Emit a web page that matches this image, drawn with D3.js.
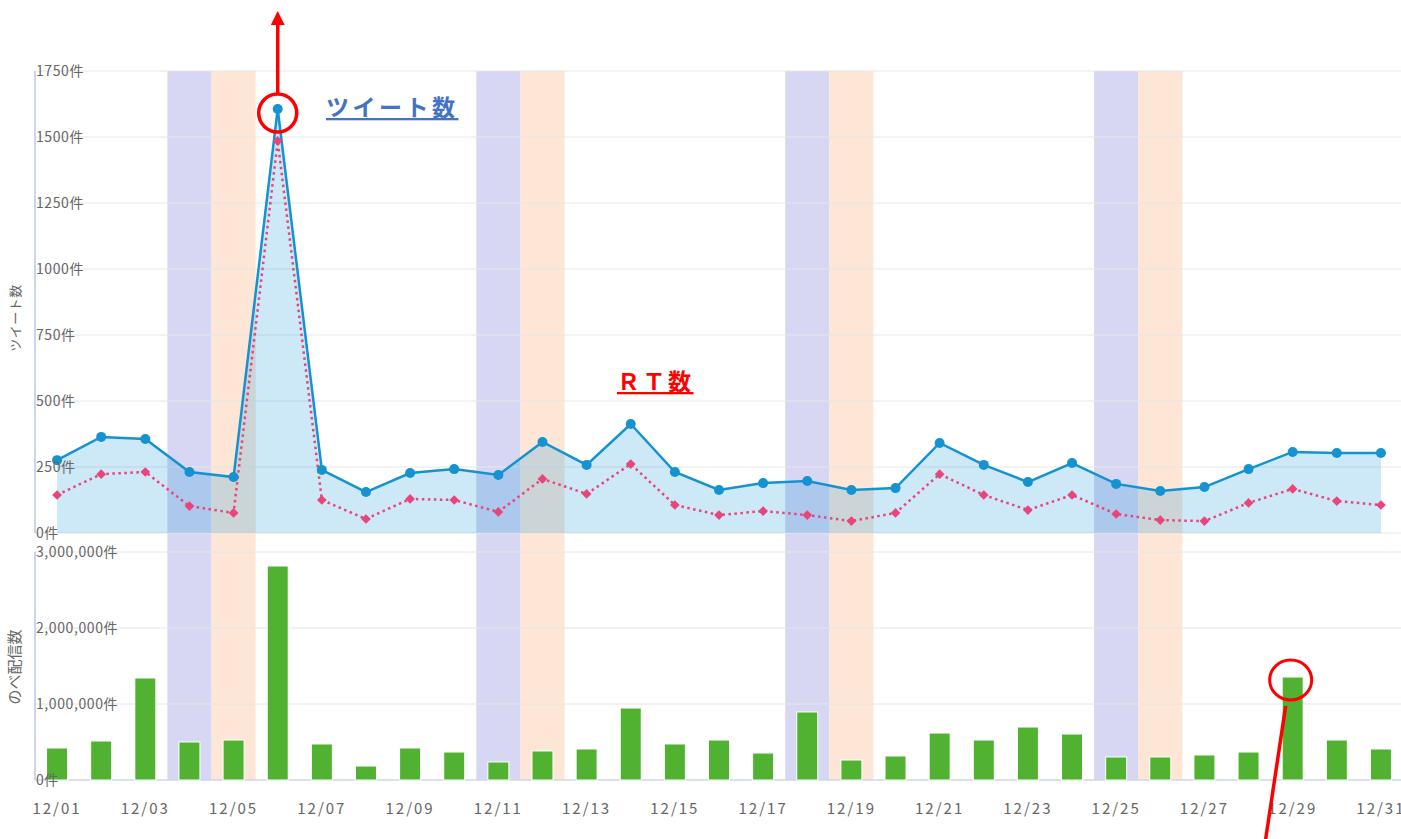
<!DOCTYPE html>
<html lang="ja">
  <head>
    <meta charset="utf-8">
    <title>ツイート数とのべ配信数</title>
    <script src="https://d3js.org/d3.v7.min.js"></script>
    <style>
      body { margin: 0; background: #fff; }
      text { font-family: "Noto Sans CJK JP", "Noto Sans", sans-serif; }
    </style>
  </head>
  <body>
    <script type="text/javascript">

      var w = 1401;
      var h = 839;

      var days = ["12/01","12/02","12/03","12/04","12/05","12/06","12/07","12/08","12/09","12/10",
                  "12/11","12/12","12/13","12/14","12/15","12/16","12/17","12/18","12/19","12/20",
                  "12/21","12/22","12/23","12/24","12/25","12/26","12/27","12/28","12/29","12/30","12/31"];
      var tweets = [276, 364, 356, 231, 212, 1606, 239, 155, 227, 242,
                    220, 345, 258, 413, 231, 163, 189, 197, 163, 170,
                    341, 258, 193, 265, 186, 159, 174, 242, 307, 303, 303];
      var retweets = [144, 223, 231, 102, 76, 1485, 125, 53, 129, 125,
                      80, 205, 148, 261, 106, 68, 83, 68, 45, 76,
                      223, 144, 87, 144, 72, 49, 45, 114, 167, 121, 106];
      var deliveries = [421000, 513000, 1342000, 500000, 526000, 2816000, 474000, 184000, 421000, 368000,
                        237000, 382000, 408000, 947000, 474000, 526000, 355000, 895000, 263000, 316000,
                        618000, 526000, 697000, 605000, 303000, 303000, 329000, 368000, 1355000, 526000, 408000];
      var saturdays = ["12/04", "12/11", "12/18", "12/25"];
      var sundays = ["12/05", "12/12", "12/19", "12/26"];
      var tweetTicks = [0, 250, 500, 750, 1000, 1250, 1500, 1750];
      var deliveryTicks = [0, 1000000, 2000000, 3000000];

      var plotLeft = 35, plotRight = 1403;
      var top1 = 71, bottom1 = 533;
      var top2 = 552, bottom2 = 780;

      var svg = d3.select("body")
          .append("svg")
          .attr("width", w)
          .attr("height", h);

      var xScale = d3.scaleBand()
          .domain(days)
          .range([plotLeft, plotRight]);
      var cx = function(d) { return xScale(d) + xScale.bandwidth() / 2 };

      var yTop = d3.scaleLinear().domain([0, 1750]).range([bottom1, top1]);
      var yBottom = d3.scaleLinear().domain([0, 3000000]).range([bottom2, top2]);

// weekend bands
      svg.append("g").selectAll("rect.sat")
          .data(saturdays)
          .enter().append("rect")
          .attr("x", function(d) { return xScale(d) })
          .attr("y", top1)
          .attr("width", xScale.bandwidth())
          .attr("height", bottom2 - top1)
          .attr("fill", "#d7d7f4");
      svg.append("g").selectAll("rect.sun")
          .data(sundays)
          .enter().append("rect")
          .attr("x", function(d) { return xScale(d) })
          .attr("y", top1)
          .attr("width", xScale.bandwidth())
          .attr("height", bottom2 - top1)
          .attr("fill", "#fde6d6");

// grid lines
      svg.append("g").selectAll("line")
          .data(tweetTicks)
          .enter().append("line")
          .attr("x1", plotLeft).attr("x2", w)
          .attr("y1", function(d) { return yTop(d) })
          .attr("y2", function(d) { return yTop(d) })
          .style("stroke", "#e6e6e6");
      svg.append("g").selectAll("line")
          .data(deliveryTicks.slice(1))
          .enter().append("line")
          .attr("x1", plotLeft).attr("x2", w)
          .attr("y1", function(d) { return yBottom(d) })
          .attr("y2", function(d) { return yBottom(d) })
          .style("stroke", "#e6e6e6");

// axis lines
      svg.append("line")
          .attr("x1", plotLeft).attr("x2", plotLeft)
          .attr("y1", top1).attr("y2", bottom1)
          .style("stroke", "#ccd6eb").style("stroke-width", 2);
      svg.append("line")
          .attr("x1", plotLeft).attr("x2", plotLeft)
          .attr("y1", top2).attr("y2", bottom2)
          .style("stroke", "#ccd6eb").style("stroke-width", 2);
      svg.append("line")
          .attr("x1", plotLeft).attr("x2", w)
          .attr("y1", bottom2).attr("y2", bottom2)
          .style("stroke", "#ccd6eb").style("stroke-width", 1.5);

// area + lines
      var idx = d3.range(days.length);
      var area = d3.area()
          .x(function(i) { return cx(days[i]) })
          .y0(yTop(0))
          .y1(function(i) { return yTop(tweets[i]) });
      svg.append("path")
          .datum(idx)
          .attr("d", area)
          .attr("fill", "#1a96d4")
          .attr("fill-opacity", 0.22);

      var tweetLine = d3.line()
          .x(function(i) { return cx(days[i]) })
          .y(function(i) { return yTop(tweets[i]) });
      var rtLine = d3.line()
          .x(function(i) { return cx(days[i]) })
          .y(function(i) { return yTop(retweets[i]) });

      svg.append("path")
          .datum(idx)
          .attr("d", rtLine)
          .attr("fill", "none")
          .style("stroke", "#e8457a")
          .style("stroke-width", 2.5)
          .style("stroke-dasharray", "2.5,3.5");

      svg.append("path")
          .datum(idx)
          .attr("d", tweetLine)
          .attr("fill", "none")
          .style("stroke", "#1592d0")
          .style("stroke-width", 2.5);

      svg.append("g").selectAll("path")
          .data(idx)
          .enter().append("path")
          .attr("d", d3.symbol().type(d3.symbolDiamond2).size(60))
          .attr("transform", function(i) { return `translate(${cx(days[i])}, ${yTop(retweets[i])})` })
          .attr("fill", "#e8457a");

      svg.append("g").selectAll("circle")
          .data(idx)
          .enter().append("circle")
          .attr("cx", function(i) { return cx(days[i]) })
          .attr("cy", function(i) { return yTop(tweets[i]) })
          .attr("r", 5)
          .attr("fill", "#1592d0");

// bars
      var barW = 21;
      svg.append("g").selectAll("rect")
          .data(idx)
          .enter().append("rect")
          .attr("x", function(i) { return cx(days[i]) - barW / 2 })
          .attr("y", function(i) { return yBottom(deliveries[i]) })
          .attr("width", barW)
          .attr("height", function(i) { return yBottom(0) - yBottom(deliveries[i]) })
          .attr("fill", "#51b130")
          .style("stroke", "#ffffff")
          .style("stroke-width", 1);

// tick labels
      svg.append("g").selectAll("text")
          .data(tweetTicks)
          .enter().append("text")
          .attr("x", plotLeft + 1)
          .attr("y", function(d) { return yTop(d) })
          .attr("dy", "0.35em")
          .attr("font-size", 14)
          .attr("letter-spacing", "0.6px")
          .attr("fill", "#666666")
          .text(function(d) { return d + "件" });
      var fmt = d3.format(",");
      svg.append("g").selectAll("text")
          .data(deliveryTicks)
          .enter().append("text")
          .attr("x", plotLeft + 1)
          .attr("y", function(d) { return yBottom(d) })
          .attr("dy", "0.35em")
          .attr("font-size", 14)
          .attr("letter-spacing", "0.6px")
          .attr("fill", "#666666")
          .text(function(d) { return fmt(d) + "件" });

      svg.append("g").selectAll("text")
          .data(days.filter(function(d, i) { return i % 2 === 0 }))
          .enter().append("text")
          .attr("x", function(d) { return cx(d) })
          .attr("y", 814)
          .attr("text-anchor", "middle")
          .attr("font-size", 15)
          .attr("letter-spacing", "2px")
          .attr("fill", "#666666")
          .text(function(d) { return d });

// axis titles
      svg.append("text")
          .attr("transform", `translate(20, 318) rotate(-90)`)
          .attr("text-anchor", "middle")
          .attr("font-size", 13)
          .attr("letter-spacing", "0.5px")
          .attr("fill", "#666666")
          .text("ツイート数");
      svg.append("text")
          .attr("transform", `translate(20, 667) rotate(-90)`)
          .attr("text-anchor", "middle")
          .attr("font-size", 15)
          .attr("fill", "#666666")
          .text("のべ配信数");

// annotations
      var peakX = cx("12/06"), peakY = yTop(tweets[5]);
      svg.append("defs").append("marker")
          .attr("id", "arrow")
          .attr("viewBox", "0 0 10 10")
          .attr("refX", 5).attr("refY", 5)
          .attr("markerWidth", 4).attr("markerHeight", 4)
          .attr("orient", "auto")
          .append("path")
          .attr("d", "M0,0 L10,5 L0,10 z")
          .attr("fill", "#ff0000");
      svg.append("ellipse")
          .attr("cx", peakX).attr("cy", peakY + 4)
          .attr("rx", 19).attr("ry", 19)
          .attr("fill", "none")
          .style("stroke", "#ff0000").style("stroke-width", 3.5);
      svg.append("line")
          .attr("x1", peakX).attr("y1", peakY - 16)
          .attr("x2", peakX).attr("y2", 18)
          .style("stroke", "#ff0000").style("stroke-width", 3.5)
          .attr("marker-end", "url(#arrow)");

      svg.append("text")
          .attr("x", 326).attr("y", 116)
          .attr("font-size", 23)
          .attr("font-weight", "bold")
          .attr("letter-spacing", "3.5px")
          .attr("fill", "#4472c4")
          .attr("text-decoration", "underline")
          .text("ツイート数");
      svg.append("text")
          .attr("x", 617).attr("y", 390)
          .attr("font-size", 23)
          .attr("font-weight", "bold")
          .attr("letter-spacing", "2.5px")
          .attr("fill", "#ff0000")
          .attr("text-decoration", "underline")
          .text("ＲＴ数");

      var barX = cx("12/29"), barY = yBottom(deliveries[28]);
      svg.append("ellipse")
          .attr("cx", barX - 2).attr("cy", barY + 3)
          .attr("rx", 21).attr("ry", 20)
          .attr("fill", "none")
          .style("stroke", "#ff0000").style("stroke-width", 3);
      svg.append("line")
          .attr("x1", barX - 7).attr("y1", barY + 29)
          .attr("x2", barX - 27).attr("y2", 839)
          .style("stroke", "#ff0000").style("stroke-width", 3.5);

    </script>
  </body>
</html>
